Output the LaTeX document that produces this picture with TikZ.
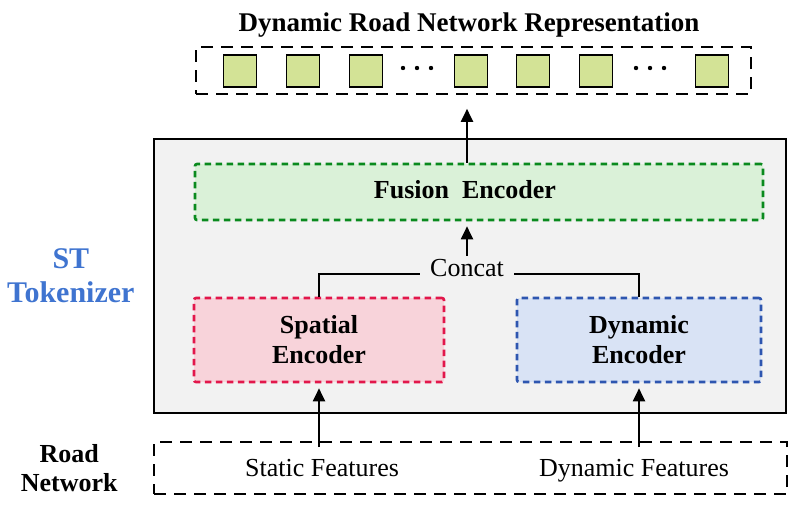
\documentclass[tikz,border=0pt]{standalone}
\usepackage{fontspec}
\setmainfont{Liberation Serif}
\usetikzlibrary{positioning}
\usetikzlibrary{arrows.meta}

\definecolor{cellgreen}{HTML}{D3E396}
\definecolor{panelgray}{HTML}{F2F2F2}
\definecolor{fusionline}{HTML}{0A8A1E}
\definecolor{fusionfill}{HTML}{DAF1D8}
\definecolor{spatialline}{HTML}{E2174B}
\definecolor{spatialfill}{HTML}{F8D3DA}
\definecolor{dynamicline}{HTML}{2E56B0}
\definecolor{dynamicfill}{HTML}{D9E3F5}
\definecolor{stblue}{HTML}{3F74D0}

\begin{document}
\begin{tikzpicture}[x=1pt, y=-1pt,
			cell/.style={draw, line width=1.8pt, fill=cellgreen, minimum width=33pt, minimum height=32pt, inner sep=0pt},
			dashbox/.style={draw, line width=1.6pt, dash pattern=on 12pt off 8pt, inner sep=0pt},
			encoder/.style={line width=2.6pt, dash pattern=on 6.5pt off 4.5pt, rounded corners=2pt, minimum height=84pt, inner sep=0pt, align=center, font=\bfseries\fontsize{26}{30}\selectfont},
			label/.style={font=\fontsize{26}{30}\selectfont},
			boldlabel/.style={align=center, font=\bfseries\fontsize{26}{29}\selectfont},
			link/.style={line width=2pt},
			arrow/.style={line width=2pt, -{Triangle[length=13pt, width=12pt]}}
			]
			\useasboundingbox (0,0) rectangle (792,504);
			
			% Output representation
			\node[dashbox, minimum width=555pt, minimum height=47pt] (repr) at (473.5,70.5) {};
			\node[font=\bfseries\fontsize{27}{30}\selectfont, anchor=base] (title) at (469,31) {Dynamic Road Network Representation};
			\foreach \x [count=\i] in {240,303,366,471,533,596,712}
			\node[cell] (cell\i) at (\x,71) {};
			\foreach \x in {417,650}
			\foreach \d in {-14,0,14}
			\fill (\x+\d,68) circle (2.2pt);
			
			% ST tokenizer
			\node[draw, line width=2pt, fill=panelgray, minimum width=632pt, minimum height=274pt] (tokenizer) at (470,276) {};
			\node[boldlabel, text=stblue, font=\bfseries\fontsize{30}{34}\selectfont, left=15pt of tokenizer] (stlabel) {ST\\Tokenizer};
			
			\node[encoder, draw=fusionline, fill=fusionfill, minimum width=568pt, minimum height=56pt] (fusion) at (479,192) {};
			\node[boldlabel, anchor=base] (fusionlabel) at (465,198) {Fusion\ \ Encoder};
			\node[encoder, draw=spatialline, fill=spatialfill, minimum width=250pt] (spatial) at (319,340) {Spatial\\Encoder};
			\node[encoder, draw=dynamicline, fill=dynamicfill, minimum width=244pt] (dynamic) at (639,340) {Dynamic\\Encoder};
			\node[label, inner xsep=10pt, inner ysep=3pt, anchor=base] (concat) at (467,276) {Concat};
			
			% Road network input
			\node[dashbox, minimum width=633pt, minimum height=52pt] (road) at (470.5,468) {};
			\node[boldlabel, left=32pt of road] (roadlabel) {Road\\Network};
			\node[label, anchor=base] (static) at (322,476) {Static Features};
			\node[label, anchor=base] (dynfeat) at (634,476) {Dynamic Features};
			
			% Connections
			\draw[link] ([yshift=-6pt]concat.west) -| (spatial.north);
			\draw[link] ([yshift=-6pt]concat.east) -| (dynamic.north);
			\draw[arrow, shorten >=5pt] (concat.north) -- (concat.north |- fusion.south);
			\draw[arrow, shorten >=14pt] (concat.north |- fusion.north) -- (concat.north |- repr.south);
			\draw[arrow, shorten >=5pt] ([yshift=-6pt]spatial.south |- road.north) -- (spatial.south);
			\draw[arrow, shorten >=5pt] ([yshift=-6pt]dynamic.south |- road.north) -- (dynamic.south);
		\end{tikzpicture}
\end{document}
